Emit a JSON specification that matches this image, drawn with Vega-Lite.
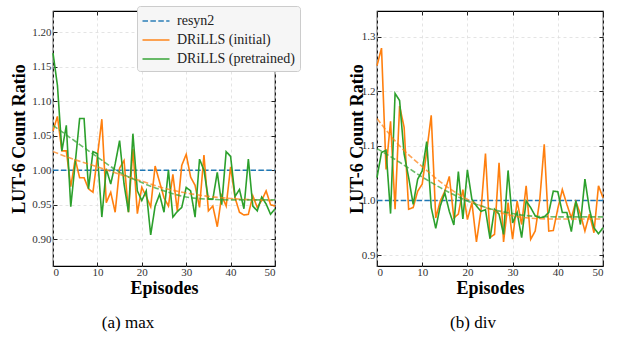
{
  "$schema": "https://vega.github.io/schema/vega-lite/v6.json",
  "padding": {"left": 10, "top": 5, "right": 5, "bottom": 5},
  "background": "white",
  "spacing": 102,
  "bounds": "flush",
  "datasets": {
    "main": [
      {"p":"a","s":"resyn2","e":0,"v":1.0},{"p":"a","s":"resyn2","e":50,"v":1.0},
      {"p":"b","s":"resyn2","e":0,"v":1.0},{"p":"b","s":"resyn2","e":50,"v":1.0},
      {"p":"a","s":"DRiLLS (initial)","e":0,"v":1.057},{"p":"a","s":"DRiLLS (initial)","e":1,"v":1.078},{"p":"a","s":"DRiLLS (initial)","e":2,"v":1.028},{"p":"a","s":"DRiLLS (initial)","e":3,"v":1.028},{"p":"a","s":"DRiLLS (initial)","e":4,"v":0.976},{"p":"a","s":"DRiLLS (initial)","e":5,"v":1.016},{"p":"a","s":"DRiLLS (initial)","e":6,"v":0.989},{"p":"a","s":"DRiLLS (initial)","e":7,"v":0.989},{"p":"a","s":"DRiLLS (initial)","e":8,"v":0.973},{"p":"a","s":"DRiLLS (initial)","e":9,"v":0.968},{"p":"a","s":"DRiLLS (initial)","e":10,"v":1.020},{"p":"a","s":"DRiLLS (initial)","e":11,"v":1.074},{"p":"a","s":"DRiLLS (initial)","e":12,"v":0.953},{"p":"a","s":"DRiLLS (initial)","e":13,"v":0.968},{"p":"a","s":"DRiLLS (initial)","e":14,"v":0.939},{"p":"a","s":"DRiLLS (initial)","e":15,"v":1.003},{"p":"a","s":"DRiLLS (initial)","e":16,"v":1.014},{"p":"a","s":"DRiLLS (initial)","e":17,"v":0.939},{"p":"a","s":"DRiLLS (initial)","e":18,"v":1.031},{"p":"a","s":"DRiLLS (initial)","e":19,"v":0.937},{"p":"a","s":"DRiLLS (initial)","e":20,"v":0.975},{"p":"a","s":"DRiLLS (initial)","e":21,"v":0.962},{"p":"a","s":"DRiLLS (initial)","e":22,"v":0.947},{"p":"a","s":"DRiLLS (initial)","e":23,"v":1.006},{"p":"a","s":"DRiLLS (initial)","e":24,"v":0.983},{"p":"a","s":"DRiLLS (initial)","e":25,"v":0.960},{"p":"a","s":"DRiLLS (initial)","e":26,"v":0.948},{"p":"a","s":"DRiLLS (initial)","e":27,"v":0.994},{"p":"a","s":"DRiLLS (initial)","e":28,"v":0.941},{"p":"a","s":"DRiLLS (initial)","e":29,"v":1.007},{"p":"a","s":"DRiLLS (initial)","e":30,"v":1.023},{"p":"a","s":"DRiLLS (initial)","e":31,"v":0.990},{"p":"a","s":"DRiLLS (initial)","e":32,"v":0.978},{"p":"a","s":"DRiLLS (initial)","e":33,"v":0.946},{"p":"a","s":"DRiLLS (initial)","e":34,"v":1.022},{"p":"a","s":"DRiLLS (initial)","e":35,"v":0.941},{"p":"a","s":"DRiLLS (initial)","e":36,"v":0.948},{"p":"a","s":"DRiLLS (initial)","e":37,"v":0.918},{"p":"a","s":"DRiLLS (initial)","e":38,"v":0.963},{"p":"a","s":"DRiLLS (initial)","e":39,"v":0.948},{"p":"a","s":"DRiLLS (initial)","e":40,"v":1.005},{"p":"a","s":"DRiLLS (initial)","e":41,"v":0.960},{"p":"a","s":"DRiLLS (initial)","e":42,"v":0.939},{"p":"a","s":"DRiLLS (initial)","e":43,"v":0.935},{"p":"a","s":"DRiLLS (initial)","e":44,"v":0.936},{"p":"a","s":"DRiLLS (initial)","e":45,"v":0.963},{"p":"a","s":"DRiLLS (initial)","e":46,"v":0.946},{"p":"a","s":"DRiLLS (initial)","e":47,"v":0.956},{"p":"a","s":"DRiLLS (initial)","e":48,"v":0.970},{"p":"a","s":"DRiLLS (initial)","e":49,"v":0.950},{"p":"a","s":"DRiLLS (initial)","e":50,"v":0.948},
      {"p":"a","s":"DRiLLS (pretrained)","e":0,"v":1.170},{"p":"a","s":"DRiLLS (pretrained)","e":1,"v":1.123},{"p":"a","s":"DRiLLS (pretrained)","e":2,"v":1.028},{"p":"a","s":"DRiLLS (pretrained)","e":3,"v":1.065},{"p":"a","s":"DRiLLS (pretrained)","e":4,"v":0.947},{"p":"a","s":"DRiLLS (pretrained)","e":5,"v":1.010},{"p":"a","s":"DRiLLS (pretrained)","e":6,"v":1.075},{"p":"a","s":"DRiLLS (pretrained)","e":7,"v":1.075},{"p":"a","s":"DRiLLS (pretrained)","e":8,"v":0.973},{"p":"a","s":"DRiLLS (pretrained)","e":9,"v":1.027},{"p":"a","s":"DRiLLS (pretrained)","e":10,"v":1.024},{"p":"a","s":"DRiLLS (pretrained)","e":11,"v":0.932},{"p":"a","s":"DRiLLS (pretrained)","e":12,"v":1.002},{"p":"a","s":"DRiLLS (pretrained)","e":13,"v":0.980},{"p":"a","s":"DRiLLS (pretrained)","e":14,"v":1.009},{"p":"a","s":"DRiLLS (pretrained)","e":15,"v":1.043},{"p":"a","s":"DRiLLS (pretrained)","e":16,"v":0.980},{"p":"a","s":"DRiLLS (pretrained)","e":17,"v":0.939},{"p":"a","s":"DRiLLS (pretrained)","e":18,"v":1.053},{"p":"a","s":"DRiLLS (pretrained)","e":19,"v":0.970},{"p":"a","s":"DRiLLS (pretrained)","e":20,"v":0.956},{"p":"a","s":"DRiLLS (pretrained)","e":21,"v":0.970},{"p":"a","s":"DRiLLS (pretrained)","e":22,"v":0.906},{"p":"a","s":"DRiLLS (pretrained)","e":23,"v":0.948},{"p":"a","s":"DRiLLS (pretrained)","e":24,"v":0.965},{"p":"a","s":"DRiLLS (pretrained)","e":25,"v":0.939},{"p":"a","s":"DRiLLS (pretrained)","e":26,"v":1.000},{"p":"a","s":"DRiLLS (pretrained)","e":27,"v":0.932},{"p":"a","s":"DRiLLS (pretrained)","e":28,"v":0.940},{"p":"a","s":"DRiLLS (pretrained)","e":29,"v":0.946},{"p":"a","s":"DRiLLS (pretrained)","e":30,"v":0.975},{"p":"a","s":"DRiLLS (pretrained)","e":31,"v":0.970},{"p":"a","s":"DRiLLS (pretrained)","e":32,"v":0.932},{"p":"a","s":"DRiLLS (pretrained)","e":33,"v":1.016},{"p":"a","s":"DRiLLS (pretrained)","e":34,"v":1.000},{"p":"a","s":"DRiLLS (pretrained)","e":35,"v":0.958},{"p":"a","s":"DRiLLS (pretrained)","e":36,"v":0.958},{"p":"a","s":"DRiLLS (pretrained)","e":37,"v":0.997},{"p":"a","s":"DRiLLS (pretrained)","e":38,"v":0.950},{"p":"a","s":"DRiLLS (pretrained)","e":39,"v":1.027},{"p":"a","s":"DRiLLS (pretrained)","e":40,"v":1.020},{"p":"a","s":"DRiLLS (pretrained)","e":41,"v":0.962},{"p":"a","s":"DRiLLS (pretrained)","e":42,"v":0.972},{"p":"a","s":"DRiLLS (pretrained)","e":43,"v":0.944},{"p":"a","s":"DRiLLS (pretrained)","e":44,"v":1.016},{"p":"a","s":"DRiLLS (pretrained)","e":45,"v":0.948},{"p":"a","s":"DRiLLS (pretrained)","e":46,"v":0.941},{"p":"a","s":"DRiLLS (pretrained)","e":47,"v":0.961},{"p":"a","s":"DRiLLS (pretrained)","e":48,"v":0.951},{"p":"a","s":"DRiLLS (pretrained)","e":49,"v":0.936},{"p":"a","s":"DRiLLS (pretrained)","e":50,"v":0.944},
      {"p":"b","s":"DRiLLS (initial)","e":0,"v":1.247},{"p":"b","s":"DRiLLS (initial)","e":1,"v":1.279},{"p":"b","s":"DRiLLS (initial)","e":2,"v":1.057},{"p":"b","s":"DRiLLS (initial)","e":3,"v":1.145},{"p":"b","s":"DRiLLS (initial)","e":4,"v":0.984},{"p":"b","s":"DRiLLS (initial)","e":5,"v":1.173},{"p":"b","s":"DRiLLS (initial)","e":6,"v":1.134},{"p":"b","s":"DRiLLS (initial)","e":7,"v":0.984},{"p":"b","s":"DRiLLS (initial)","e":8,"v":0.987},{"p":"b","s":"DRiLLS (initial)","e":9,"v":1.017},{"p":"b","s":"DRiLLS (initial)","e":10,"v":1.030},{"p":"b","s":"DRiLLS (initial)","e":11,"v":1.090},{"p":"b","s":"DRiLLS (initial)","e":12,"v":1.156},{"p":"b","s":"DRiLLS (initial)","e":13,"v":0.968},{"p":"b","s":"DRiLLS (initial)","e":14,"v":0.999},{"p":"b","s":"DRiLLS (initial)","e":15,"v":1.017},{"p":"b","s":"DRiLLS (initial)","e":16,"v":1.044},{"p":"b","s":"DRiLLS (initial)","e":17,"v":0.968},{"p":"b","s":"DRiLLS (initial)","e":18,"v":0.975},{"p":"b","s":"DRiLLS (initial)","e":19,"v":1.020},{"p":"b","s":"DRiLLS (initial)","e":20,"v":0.965},{"p":"b","s":"DRiLLS (initial)","e":21,"v":0.996},{"p":"b","s":"DRiLLS (initial)","e":22,"v":0.924},{"p":"b","s":"DRiLLS (initial)","e":23,"v":0.981},{"p":"b","s":"DRiLLS (initial)","e":24,"v":1.086},{"p":"b","s":"DRiLLS (initial)","e":25,"v":0.932},{"p":"b","s":"DRiLLS (initial)","e":26,"v":0.938},{"p":"b","s":"DRiLLS (initial)","e":27,"v":1.069},{"p":"b","s":"DRiLLS (initial)","e":28,"v":0.924},{"p":"b","s":"DRiLLS (initial)","e":29,"v":0.996},{"p":"b","s":"DRiLLS (initial)","e":30,"v":0.929},{"p":"b","s":"DRiLLS (initial)","e":31,"v":0.999},{"p":"b","s":"DRiLLS (initial)","e":32,"v":0.956},{"p":"b","s":"DRiLLS (initial)","e":33,"v":1.027},{"p":"b","s":"DRiLLS (initial)","e":34,"v":0.929},{"p":"b","s":"DRiLLS (initial)","e":35,"v":0.944},{"p":"b","s":"DRiLLS (initial)","e":36,"v":1.000},{"p":"b","s":"DRiLLS (initial)","e":37,"v":1.103},{"p":"b","s":"DRiLLS (initial)","e":38,"v":0.944},{"p":"b","s":"DRiLLS (initial)","e":39,"v":0.945},{"p":"b","s":"DRiLLS (initial)","e":40,"v":0.985},{"p":"b","s":"DRiLLS (initial)","e":41,"v":1.020},{"p":"b","s":"DRiLLS (initial)","e":42,"v":0.993},{"p":"b","s":"DRiLLS (initial)","e":43,"v":0.968},{"p":"b","s":"DRiLLS (initial)","e":44,"v":0.998},{"p":"b","s":"DRiLLS (initial)","e":45,"v":0.975},{"p":"b","s":"DRiLLS (initial)","e":46,"v":0.944},{"p":"b","s":"DRiLLS (initial)","e":47,"v":0.975},{"p":"b","s":"DRiLLS (initial)","e":48,"v":0.941},{"p":"b","s":"DRiLLS (initial)","e":49,"v":1.027},{"p":"b","s":"DRiLLS (initial)","e":50,"v":1.005},
      {"p":"b","s":"DRiLLS (pretrained)","e":0,"v":1.042},{"p":"b","s":"DRiLLS (pretrained)","e":1,"v":1.088},{"p":"b","s":"DRiLLS (pretrained)","e":2,"v":1.092},{"p":"b","s":"DRiLLS (pretrained)","e":3,"v":0.976},{"p":"b","s":"DRiLLS (pretrained)","e":4,"v":1.196},{"p":"b","s":"DRiLLS (pretrained)","e":5,"v":1.183},{"p":"b","s":"DRiLLS (pretrained)","e":6,"v":1.085},{"p":"b","s":"DRiLLS (pretrained)","e":7,"v":1.042},{"p":"b","s":"DRiLLS (pretrained)","e":8,"v":0.993},{"p":"b","s":"DRiLLS (pretrained)","e":9,"v":1.039},{"p":"b","s":"DRiLLS (pretrained)","e":10,"v":1.054},{"p":"b","s":"DRiLLS (pretrained)","e":11,"v":1.108},{"p":"b","s":"DRiLLS (pretrained)","e":12,"v":0.987},{"p":"b","s":"DRiLLS (pretrained)","e":13,"v":0.949},{"p":"b","s":"DRiLLS (pretrained)","e":14,"v":0.990},{"p":"b","s":"DRiLLS (pretrained)","e":15,"v":1.014},{"p":"b","s":"DRiLLS (pretrained)","e":16,"v":0.980},{"p":"b","s":"DRiLLS (pretrained)","e":17,"v":0.955},{"p":"b","s":"DRiLLS (pretrained)","e":18,"v":1.053},{"p":"b","s":"DRiLLS (pretrained)","e":19,"v":0.966},{"p":"b","s":"DRiLLS (pretrained)","e":20,"v":1.056},{"p":"b","s":"DRiLLS (pretrained)","e":21,"v":1.002},{"p":"b","s":"DRiLLS (pretrained)","e":22,"v":0.990},{"p":"b","s":"DRiLLS (pretrained)","e":23,"v":0.980},{"p":"b","s":"DRiLLS (pretrained)","e":24,"v":0.983},{"p":"b","s":"DRiLLS (pretrained)","e":25,"v":0.930},{"p":"b","s":"DRiLLS (pretrained)","e":26,"v":0.984},{"p":"b","s":"DRiLLS (pretrained)","e":27,"v":0.975},{"p":"b","s":"DRiLLS (pretrained)","e":28,"v":0.938},{"p":"b","s":"DRiLLS (pretrained)","e":29,"v":1.055},{"p":"b","s":"DRiLLS (pretrained)","e":30,"v":0.959},{"p":"b","s":"DRiLLS (pretrained)","e":31,"v":0.978},{"p":"b","s":"DRiLLS (pretrained)","e":32,"v":0.932},{"p":"b","s":"DRiLLS (pretrained)","e":33,"v":0.999},{"p":"b","s":"DRiLLS (pretrained)","e":34,"v":0.987},{"p":"b","s":"DRiLLS (pretrained)","e":35,"v":0.972},{"p":"b","s":"DRiLLS (pretrained)","e":36,"v":0.968},{"p":"b","s":"DRiLLS (pretrained)","e":37,"v":0.970},{"p":"b","s":"DRiLLS (pretrained)","e":38,"v":0.978},{"p":"b","s":"DRiLLS (pretrained)","e":39,"v":1.017},{"p":"b","s":"DRiLLS (pretrained)","e":40,"v":1.016},{"p":"b","s":"DRiLLS (pretrained)","e":41,"v":0.978},{"p":"b","s":"DRiLLS (pretrained)","e":42,"v":0.978},{"p":"b","s":"DRiLLS (pretrained)","e":43,"v":0.943},{"p":"b","s":"DRiLLS (pretrained)","e":44,"v":0.999},{"p":"b","s":"DRiLLS (pretrained)","e":45,"v":0.956},{"p":"b","s":"DRiLLS (pretrained)","e":46,"v":1.039},{"p":"b","s":"DRiLLS (pretrained)","e":47,"v":0.984},{"p":"b","s":"DRiLLS (pretrained)","e":48,"v":0.950},{"p":"b","s":"DRiLLS (pretrained)","e":49,"v":0.939},{"p":"b","s":"DRiLLS (pretrained)","e":50,"v":0.950}
    ],
    "fit": [
      {"p":"a","s":"DRiLLS (initial)","e":0,"v":1.027},{"p":"a","s":"DRiLLS (initial)","e":5,"v":1.015},{"p":"a","s":"DRiLLS (initial)","e":10,"v":1.005},{"p":"a","s":"DRiLLS (initial)","e":15,"v":0.994},{"p":"a","s":"DRiLLS (initial)","e":20,"v":0.984},{"p":"a","s":"DRiLLS (initial)","e":25,"v":0.974},{"p":"a","s":"DRiLLS (initial)","e":30,"v":0.967},{"p":"a","s":"DRiLLS (initial)","e":35,"v":0.962},{"p":"a","s":"DRiLLS (initial)","e":40,"v":0.959},{"p":"a","s":"DRiLLS (initial)","e":45,"v":0.957},{"p":"a","s":"DRiLLS (initial)","e":50,"v":0.956},
      {"p":"a","s":"DRiLLS (pretrained)","e":0,"v":1.065},{"p":"a","s":"DRiLLS (pretrained)","e":5,"v":1.042},{"p":"a","s":"DRiLLS (pretrained)","e":10,"v":1.019},{"p":"a","s":"DRiLLS (pretrained)","e":15,"v":0.997},{"p":"a","s":"DRiLLS (pretrained)","e":20,"v":0.982},{"p":"a","s":"DRiLLS (pretrained)","e":25,"v":0.970},{"p":"a","s":"DRiLLS (pretrained)","e":30,"v":0.961},{"p":"a","s":"DRiLLS (pretrained)","e":35,"v":0.958},{"p":"a","s":"DRiLLS (pretrained)","e":40,"v":0.957},{"p":"a","s":"DRiLLS (pretrained)","e":45,"v":0.957},{"p":"a","s":"DRiLLS (pretrained)","e":50,"v":0.957},
      {"p":"b","s":"DRiLLS (initial)","e":0,"v":1.150},{"p":"b","s":"DRiLLS (initial)","e":5,"v":1.100},{"p":"b","s":"DRiLLS (initial)","e":10,"v":1.062},{"p":"b","s":"DRiLLS (initial)","e":15,"v":1.028},{"p":"b","s":"DRiLLS (initial)","e":20,"v":1.002},{"p":"b","s":"DRiLLS (initial)","e":25,"v":0.984},{"p":"b","s":"DRiLLS (initial)","e":30,"v":0.972},{"p":"b","s":"DRiLLS (initial)","e":35,"v":0.967},{"p":"b","s":"DRiLLS (initial)","e":40,"v":0.966},{"p":"b","s":"DRiLLS (initial)","e":45,"v":0.966},{"p":"b","s":"DRiLLS (initial)","e":50,"v":0.966},
      {"p":"b","s":"DRiLLS (pretrained)","e":0,"v":1.095},{"p":"b","s":"DRiLLS (pretrained)","e":5,"v":1.070},{"p":"b","s":"DRiLLS (pretrained)","e":10,"v":1.043},{"p":"b","s":"DRiLLS (pretrained)","e":15,"v":1.019},{"p":"b","s":"DRiLLS (pretrained)","e":20,"v":0.999},{"p":"b","s":"DRiLLS (pretrained)","e":25,"v":0.985},{"p":"b","s":"DRiLLS (pretrained)","e":30,"v":0.976},{"p":"b","s":"DRiLLS (pretrained)","e":35,"v":0.971},{"p":"b","s":"DRiLLS (pretrained)","e":40,"v":0.970},{"p":"b","s":"DRiLLS (pretrained)","e":45,"v":0.970},{"p":"b","s":"DRiLLS (pretrained)","e":50,"v":0.970}
    ]
  },
  "hconcat": [
    {
      "width": 222, "height": 255,
      "title": {"text": "(a)  max", "orient": "bottom", "dx": -36, "offset": 18},
      "layer": [
        {
          "data": {"name": "main"},
          "transform": [{"filter": "datum.p === 'a'"}],
          "mark": {"type": "line", "strokeWidth": 1.6},
          "encoding": {
            "x": {"field": "e", "type": "quantitative", "scale": {"domain": [0, 50], "nice": false},
                  "axis": {"orient": "bottom", "values": [0,10,20,30,40,50], "title": "Episodes", "grid": true}},
            "y": {"field": "v", "type": "quantitative", "scale": {"domain": [0.861, 1.231], "nice": false, "zero": false},
                  "axis": {"orient": "left", "values": [0.9,0.95,1.0,1.05,1.1,1.15,1.2], "format": ".2f", "title": "LUT-6 Count Ratio", "grid": true, "titlePadding": 3}},
            "color": {"field": "s", "type": "nominal", "sort": null,
                      "scale": {"domain": ["resyn2", "DRiLLS (initial)", "DRiLLS (pretrained)"], "range": ["#1f77b4", "#ff7f0e", "#2ca02c"]},
                      "legend": {"title": null, "orient": "none", "legendX": 84, "legendY": -5, "labelFont": "Liberation Serif"}},
            "strokeDash": {"field": "s", "type": "nominal", "sort": null,
                      "scale": {"domain": ["resyn2", "DRiLLS (initial)", "DRiLLS (pretrained)"], "range": [[5.5, 2.4], [1, 0], [1, 0]]},
                      "legend": {"title": null, "orient": "none", "legendX": 84, "legendY": -5, "labelFont": "Liberation Serif"}}
          }
        },
        {
          "data": {"name": "fit"},
          "transform": [{"filter": "datum.p === 'a'"}],
          "mark": {"type": "line", "strokeWidth": 1.6, "strokeDash": [5.5, 2.4], "opacity": 0.7, "interpolate": "monotone"},
          "encoding": {
            "x": {"field": "e", "type": "quantitative", "scale": {"domain": [0, 50], "nice": false},
                  "axis": {"orient": "top", "values": [0,10,20,30,40,50], "labels": false, "title": null, "grid": false}},
            "y": {"field": "v", "type": "quantitative", "scale": {"domain": [0.861, 1.231], "nice": false, "zero": false},
                  "axis": {"orient": "right", "values": [0.9,0.95,1.0,1.05,1.1,1.15,1.2], "labels": false, "title": null, "grid": false}},
            "color": {"field": "s", "type": "nominal", "sort": null,
                      "scale": {"domain": ["resyn2", "DRiLLS (initial)", "DRiLLS (pretrained)"], "range": ["#1f77b4", "#ff7f0e", "#2ca02c"]}}
          }
        }
      ],
      "resolve": {"axis": {"x": "independent", "y": "independent"}}
    },
    {
      "width": 226, "height": 255,
      "title": {"text": "(b)  div", "orient": "bottom", "dx": -17, "offset": 18},
      "layer": [
        {
          "data": {"name": "main"},
          "transform": [{"filter": "datum.p === 'b'"}],
          "mark": {"type": "line", "strokeWidth": 1.6},
          "encoding": {
            "x": {"field": "e", "type": "quantitative", "scale": {"domain": [0, 50], "nice": false},
                  "axis": {"orient": "bottom", "values": [0,10,20,30,40,50], "title": "Episodes", "grid": true}},
            "y": {"field": "v", "type": "quantitative", "scale": {"domain": [0.88, 1.347], "nice": false, "zero": false},
                  "axis": {"orient": "left", "values": [0.9,1.0,1.1,1.2,1.3], "format": ".1f", "title": "LUT-6 Count Ratio", "grid": true, "titlePadding": -5}},
            "color": {"field": "s", "type": "nominal", "sort": null,
                      "scale": {"domain": ["resyn2", "DRiLLS (initial)", "DRiLLS (pretrained)"], "range": ["#1f77b4", "#ff7f0e", "#2ca02c"]},
                      "legend": {"title": null, "orient": "none", "legendX": 87, "legendY": -4, "labelFont": "Liberation Serif"}},
            "strokeDash": {"field": "s", "type": "nominal", "sort": null,
                      "scale": {"domain": ["resyn2", "DRiLLS (initial)", "DRiLLS (pretrained)"], "range": [[5.5, 2.4], [1, 0], [1, 0]]},
                      "legend": {"title": null, "orient": "none", "legendX": 87, "legendY": -4, "labelFont": "Liberation Serif"}}
          }
        },
        {
          "data": {"name": "fit"},
          "transform": [{"filter": "datum.p === 'b'"}],
          "mark": {"type": "line", "strokeWidth": 1.6, "strokeDash": [5.5, 2.4], "opacity": 0.7, "interpolate": "monotone"},
          "encoding": {
            "x": {"field": "e", "type": "quantitative", "scale": {"domain": [0, 50], "nice": false},
                  "axis": {"orient": "top", "values": [0,10,20,30,40,50], "labels": false, "title": null, "grid": false}},
            "y": {"field": "v", "type": "quantitative", "scale": {"domain": [0.88, 1.347], "nice": false, "zero": false},
                  "axis": {"orient": "right", "values": [0.9,1.0,1.1,1.2,1.3], "labels": false, "title": null, "grid": false}},
            "color": {"field": "s", "type": "nominal", "sort": null,
                      "scale": {"domain": ["resyn2", "DRiLLS (initial)", "DRiLLS (pretrained)"], "range": ["#1f77b4", "#ff7f0e", "#2ca02c"]}}
          }
        }
      ],
      "resolve": {"axis": {"x": "independent", "y": "independent"}}
    }
  ],
  "config": {
    "font": "Liberation Serif",
    "view": {"stroke": "black", "strokeWidth": 1.2},
    "axis": {
      "domain": false,
      "ticks": true, "tickSize": -4, "tickColor": "#222222", "tickWidth": 1,
      "labelFont": "Liberation Serif", "labelFontSize": 11, "labelColor": "#333333",
      "titleFont": "Liberation Serif", "titleFontSize": 18, "titleFontWeight": "bold", "titleColor": "black",
      "gridColor": "#dddddd", "gridDash": [3, 3], "gridWidth": 0.8
    },
    "axisX": {"titlePadding": 2, "labelPadding": 4},
    "axisY": {"labelPadding": 6},
    "legend": {
      "symbolType": "M-1.5,0H1.5", "symbolSize": 324, "symbolStrokeWidth": 2, "symbolOffset": 4,
      "labelFont": "Liberation Serif", "labelFontSize": 14, "labelColor": "#222222", "labelLimit": 300,
      "labelOffset": 11, "rowPadding": 2, "padding": 5,
      "fillColor": "#f6f6f6", "strokeColor": "#cccccc", "cornerRadius": 3
    },
    "title": {"font": "Liberation Serif", "fontSize": 17, "fontWeight": "normal", "color": "black", "anchor": "middle"}
  }
}
